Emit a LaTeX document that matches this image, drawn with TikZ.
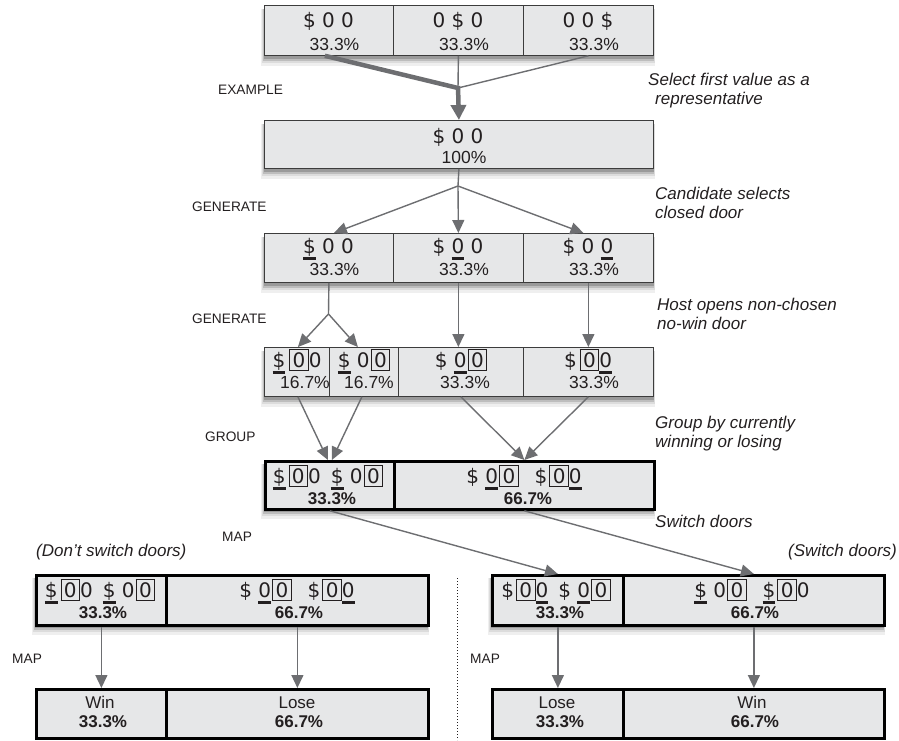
\documentclass[tikz,border=0pt]{standalone}
\usepackage{fontspec}
\setmainfont{Liberation Sans}
\newfontfamily\doorfont{DejaVu Sans}
\usetikzlibrary{arrows.meta}
\definecolor{boxfill}{HTML}{E6E7E8}
\definecolor{edge}{HTML}{3C3C3C}
\definecolor{arrowgray}{HTML}{6D6E71}
\definecolor{ink}{HTML}{231F20}
\definecolor{shadeA}{HTML}{9A9A9A}
\definecolor{shadeB}{HTML}{BDBDBD}
\definecolor{shadeC}{HTML}{DCDCDC}
\definecolor{shadeD}{HTML}{EFEFEF}
\newcommand\ulc[1]{\setbox0=\hbox{#1}\rlap{\rule[-7pt]{\wd0}{3.4pt}}\box0\relax}
\newcommand\bxc[1]{{\setlength\fboxsep{2.5pt}\setlength\fboxrule{0.9pt}\fbox{#1}}}
% shadow of a row: name, x1, x2, ytop, ybottom
\newcommand\rowshadow[5]{%
  \node[shadownode, fill=shadeD, minimum width={#3-#2+5}, minimum height={#5-#4+7}] (#1d) at (#2-3,#4+4) {};
  \node[shadownode, fill=shadeC, minimum width={#3-#2+3.5}, minimum height={#5-#4+4}] (#1c) at (#2-2,#4+4) {};
  \node[shadownode, fill=shadeB, minimum width={#3-#2+2}, minimum height={#5-#4+1.5}] (#1b) at (#2-1,#4+4) {};
  \node[shadownode, fill=shadeA, minimum width={#3-#2+1}, minimum height={#5-#4-0.5}] (#1a) at (#2-0.5,#4+4) {};}
\tikzset{
  shadownode/.style={draw=none, inner sep=0pt, outer sep=0pt, anchor=north west},
  rowbox/.style={fill=boxfill, draw=edge, line width=0.8pt, anchor=north west, inner sep=0pt},
  rowthick/.style={rowbox, draw=black, line width=2.6pt},
  cellbox/.style={fill=boxfill, draw=edge, line width=0.8pt, anchor=north west, inner sep=0pt},
  cellthick/.style={cellbox, draw=black, line width=2.8pt},
  doors/.style={anchor=base, inner sep=0pt, font=\doorfont\fontsize{20}{24}\selectfont, text=ink},
  pct/.style={anchor=base, inner sep=0pt, font=\fontsize{17.5}{20}\selectfont, text=ink},
  pctb/.style={anchor=base, inner sep=0pt, font=\bfseries\fontsize{17}{20}\selectfont, text=ink},
  word/.style={anchor=base, inner sep=0pt, font=\fontsize{17}{20}\selectfont, text=ink},
  steplabel/.style={anchor=base west, inner sep=0pt, font=\fontsize{13.7}{17}\selectfont, text=ink},
  note/.style={anchor=base west, inner sep=0pt, font=\itshape\fontsize{17}{20}\selectfont, text=ink},
  conn/.style={draw=arrowgray, line width=1.4pt},
  arr/.style={conn, -{Triangle[length=13pt,width=12pt]}},
  bigconn/.style={draw=arrowgray, line width=4.5pt},
  bigarr/.style={bigconn, -{Triangle[length=15pt,width=15pt]}},
}
\begin{document}
\begin{tikzpicture}[x=1pt,y=-1pt]
\useasboundingbox (0,0) rectangle (899,740);
% ---------- shadows (drawn first, behind the rows)
\rowshadow{s1}{264}{653}{5}{55}
\rowshadow{s2}{264}{653}{120}{168}
\rowshadow{s3}{264}{653}{233}{282}
\rowshadow{s4}{264}{653}{347}{396}
\rowshadow{s5}{264}{653}{460}{508}
\rowshadow{s6l}{35}{427}{574}{624}
\rowshadow{s6r}{491}{883}{574}{624}
% ---------- row 1
\node[rowbox, minimum width=389, minimum height=50] (r1) at (264,5) {};
\node[cellbox, minimum width=129, minimum height=50] (c11) at (264,5) {};
\node[cellbox, minimum width=130, minimum height=50] (c12) at (393,5) {};
\node[cellbox, minimum width=130, minimum height=50] (c13) at (523,5) {};
% ---------- row 2
\node[rowbox, minimum width=389, minimum height=48] (r2) at (264,120) {};
% ---------- row 3
\node[rowbox, minimum width=389, minimum height=49] (r3) at (264,233) {};
\node[cellbox, minimum width=129, minimum height=49] (c31) at (264,233) {};
\node[cellbox, minimum width=130, minimum height=49] (c32) at (393,233) {};
\node[cellbox, minimum width=130, minimum height=49] (c33) at (523,233) {};
% ---------- row 4
\node[rowbox, minimum width=389, minimum height=49] (r4) at (264,347) {};
\node[cellbox, minimum width=65, minimum height=49] (c41) at (264,347) {};
\node[cellbox, minimum width=69, minimum height=49] (c42) at (329,347) {};
\node[cellbox, minimum width=125, minimum height=49] (c43) at (398,347) {};
\node[cellbox, minimum width=130, minimum height=49] (c44) at (523,347) {};
% ---------- row 5
\node[rowthick, minimum width=389, minimum height=48] (r5) at (264,460) {};
\node[cellthick, minimum width=129, minimum height=48] (c51) at (264,460) {};
\node[cellthick, minimum width=260, minimum height=48] (c52) at (393,460) {};
% ---------- row 6
\node[rowthick, minimum width=392, minimum height=50] (r6l) at (35,574) {};
\node[cellthick, minimum width=130, minimum height=50] (c6l1) at (35,574) {};
\node[cellthick, minimum width=262, minimum height=50] (c6l2) at (165,574) {};
\node[rowthick, minimum width=392, minimum height=50] (r6r) at (491,574) {};
\node[cellthick, minimum width=131, minimum height=50] (c6r1) at (491,574) {};
\node[cellthick, minimum width=261, minimum height=50] (c6r2) at (622,574) {};
% ---------- row 7
\node[rowthick, minimum width=392, minimum height=49] (r7l) at (35,688) {};
\node[cellthick, minimum width=130, minimum height=49] (c7l1) at (35,688) {};
\node[cellthick, minimum width=262, minimum height=49] (c7l2) at (165,688) {};
\node[rowthick, minimum width=392, minimum height=49] (r7r) at (491,688) {};
\node[cellthick, minimum width=131, minimum height=49] (c7r1) at (491,688) {};
\node[cellthick, minimum width=261, minimum height=49] (c7r2) at (622,688) {};
% ---------- connectors
\coordinate (j1) at (458,88);
\coordinate (j2) at (458,186);
\coordinate (j3) at (328.5,314);
\draw[bigconn] ([xshift=-4pt]c11.south) -- (j1);
\draw[conn] (c12.south) -- (j1);
\draw[conn] (c13.south) -- (j1);
\draw[bigarr] ([yshift=2pt]j1) -- (r2.north);
\draw[conn] (r2.south) -- (j2);
\draw[arr] (j2) -- ([xshift=5pt]c31.north);
\draw[arr] (j2) -- (c32.north);
\draw[arr] (j2) -- ([xshift=-5pt]c33.north);
\draw[conn] (c31.south) -- (j3);
\draw[arr] (j3) -- ([xshift=1pt]c41.north);
\draw[arr] (j3) -- ([xshift=-6pt]c42.north);
\draw[arr] (c32.south) -- (c32.south |- c43.north);
\draw[arr] (c33.south) -- (c33.south |- c44.north);
\draw[arr] ([xshift=1pt]c41.south) -- ([xshift=-2pt]c51.north);
\draw[arr] ([xshift=-2pt]c42.south) -- ([xshift=2pt]c51.north);
\draw[arr] (c43.south) -- (c52.north);
\draw[arr] (c44.south) -- (c52.north);
\draw[arr] (c51.south) -- (c6r1.north);
\draw[arr] (c52.south) -- (c6r2.north);
\draw[arr] (c6l1.south) -- (c7l1.north);
\draw[arr] (c6l2.south) -- (c7l2.north);
\draw[arr] (c6r1.south) -- (c7r1.north);
\draw[arr] (c6r2.south) -- (c7r2.north);
% dotted separator
\coordinate (dt) at (457,578);
\coordinate (db) at (457,740);
\draw[ink, line width=1pt, dotted] (dt) -- (db);
% ---------- texts row 1
\node[doors] (t11) at (328.5,27) {\$ 0 0};
\node[pct] (p11) at (334.5,50) {33.3\%};
\node[doors] (t12) at (458,27) {0 \$ 0};
\node[pct] (p12) at (464,50) {33.3\%};
\node[doors] (t13) at (588,27) {0 0 \$};
\node[pct] (p13) at (594,50) {33.3\%};
% row 2
\node[doors] (t2) at (458,143) {\$ 0 0};
\node[pct] (p2) at (464,163) {100\%};
% row 3
\node[doors] (t31) at (328.5,253) {\ulc{\$} 0 0};
\node[pct] (p31) at (334.5,275) {33.3\%};
\node[doors] (t32) at (458,253) {\$ \ulc{0} 0};
\node[pct] (p32) at (464,275) {33.3\%};
\node[doors] (t33) at (588,253) {\$ 0 \ulc{0}};
\node[pct] (p33) at (594,275) {33.3\%};
% row 4
\node[doors] (t41) at (297,367) {\ulc{\$}\kern4pt\bxc{0}0};
\node[pct] (p41) at (305,388) {16.7\%};
\node[doors] (t42) at (364,367) {\ulc{\$} 0\kern1pt\bxc{0}};
\node[pct] (p42) at (369,388) {16.7\%};
\node[doors] (t43) at (461,367) {\$ \ulc{0}\kern1pt\bxc{0}};
\node[pct] (p43) at (465,388) {33.3\%};
\node[doors] (t44) at (588,367) {\$\kern3pt\bxc{0}\ulc{0}};
\node[pct] (p44) at (594,388) {33.3\%};
% row 5
\node[doors] (t51) at (328,483) {\ulc{\$}\kern3pt\bxc{0}0\kern10pt\ulc{\$} 0\kern1pt\bxc{0}};
\node[pctb] (p51) at (332,504) {33.3\%};
\node[doors] (t52) at (524,483) {\$ \ulc{0}\kern1pt\bxc{0}\kern16pt\$\kern2pt\bxc{0}\ulc{0}};
\node[pctb] (p52) at (528,504) {66.7\%};
% row 6
\node[doors] (t6l1) at (100,597) {\ulc{\$}\kern3pt\bxc{0}0\kern10pt\ulc{\$} 0\kern1pt\bxc{0}};
\node[pctb] (p6l1) at (103,618) {33.3\%};
\node[doors] (t6l2) at (297,597) {\$ \ulc{0}\kern1pt\bxc{0}\kern16pt\$\kern2pt\bxc{0}\ulc{0}};
\node[pctb] (p6l2) at (299,618) {66.7\%};
\node[doors] (t6r1) at (556,597) {\$\kern2pt\bxc{0}\ulc{0}\kern10pt\$ \ulc{0}\kern1pt\bxc{0}};
\node[pctb] (p6r1) at (560,618) {33.3\%};
\node[doors] (t6r2) at (752,597) {\ulc{\$} 0\kern1pt\bxc{0}\kern16pt\ulc{\$}\kern2pt\bxc{0}0};
\node[pctb] (p6r2) at (755,618) {66.7\%};
% row 7
\node[word] (w7l1) at (100,708) {Win};
\node[pctb] (q7l1) at (103,727) {33.3\%};
\node[word] (w7l2) at (297,708) {Lose};
\node[pctb] (q7l2) at (299,727) {66.7\%};
\node[word] (w7r1) at (557,708) {Lose};
\node[pctb] (q7r1) at (560,727) {33.3\%};
\node[word] (w7r2) at (752,708) {Win};
\node[pctb] (q7r2) at (755,727) {66.7\%};
% ---------- step labels
\node[steplabel] (lex) at (218,94) {EXAMPLE};
\node[steplabel] (lg1) at (192,211) {GENERATE};
\node[steplabel] (lg2) at (192,323) {GENERATE};
\node[steplabel] (lgr) at (205,441) {GROUP};
\node[steplabel] (lm1) at (222,541) {MAP};
\node[steplabel] (lm2) at (12,663) {MAP};
\node[steplabel] (lm3) at (470,663) {MAP};
% ---------- notes
\node[note] (n1a) at (648,85) {Select first value as a};
\node[note] (n1b) at (655,104) {representative};
\node[note] (n2a) at (655,199) {Candidate selects};
\node[note] (n2b) at (655,218) {closed door};
\node[note] (n3a) at (657,310) {Host opens non-chosen};
\node[note] (n3b) at (657,329) {no-win door};
\node[note] (n4a) at (655,428) {Group by currently};
\node[note] (n4b) at (655,447) {winning or losing};
\node[note] (n5) at (655,527) {Switch doors};
\node[note] (n6) at (36,556) {(Don't switch doors)};
\node[note] (n7) at (788,556) {(Switch doors)};
\end{tikzpicture}
\end{document}
